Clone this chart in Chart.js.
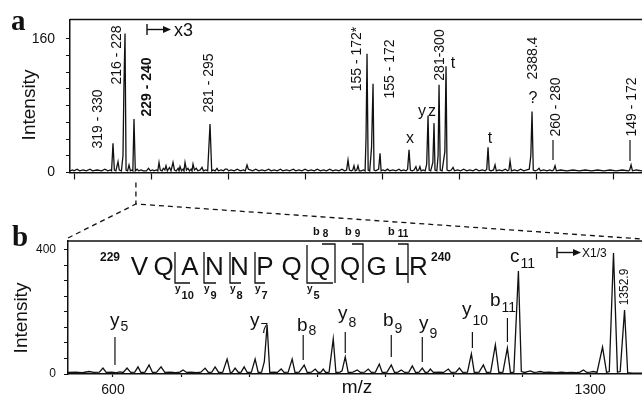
<!DOCTYPE html>
<html>
<head>
<meta charset="UTF-8">
<title>MS spectra a/b</title>
<script src="https://cdn.jsdelivr.net/npm/chart.js"></script>
<style>
  body { margin: 0; background: #fff; }
  #wrap { position: relative; width: 642px; height: 398px; }
  canvas { position: absolute; left: 0; top: 0; }
</style>
</head>
<body>
<div id="wrap">
  <canvas id="chartA" width="642" height="398"></canvas>
  <canvas id="chartB" width="642" height="398"></canvas>
</div>
<script>
// panel a: [m/z, intensity]
const traceA = [
  [887,2],[895,3],[900,2],[910,4],[918,2],[930,3],[940,2],[952,4],[960,2],[975,3],[990,2],[1000,4],[1010,2],
  [1018,3],[1022,2],[1026.6,35],[1031,3],[1036,2],[1042.9,13],[1047,3],[1054,2],[1059,20],[1062,101],[1065.6,166],
  [1069,3],[1074,2],[1078.6,9],[1083,2],[1088,3],[1091,2],[1094.8,64],[1099,2],[1105,4],[1110,2],[1118,3],[1125,2],
  [1135,2],[1142,5],[1148,2],[1155,3],[1160,2],[1168,3],[1172,2],[1176,12],[1180,3],[1186,2],[1190,5],[1195,3],
  [1198.7,8],[1203,2],[1210,6],[1215,2],[1221.4,12],[1226,3],[1232,2],[1238,5],[1241,2],[1244.2,7],[1249,2],
  [1254,4],[1257,2],[1260.4,12],[1265,3],[1270,5],[1275,2],[1280,4],[1283,2],[1286.4,10],[1291,3],[1297,5],
  [1302,2],[1310,3],[1315.6,6],[1320,2],[1328,3],[1334,2],[1341.6,58],[1347,2],[1352,3],[1358,2],[1364.3,5],
  [1369,2],[1378,3],[1385,2],[1391,4],[1396.8,4],[1402,2],[1410,3],[1420,2],[1430,4],[1440,2],[1450,3],[1456,2],
  [1461.7,9],[1466,4],[1472,3],[1480,2],[1490,4],[1500,2],[1510,3],[1520,2],[1532,4],[1540,2],[1550,3],[1560,2],
  [1570,4],[1578,2],[1590,3],[1600,2],[1612,4],[1620,2],[1630,3],[1640,2],[1650,4],[1660,2],[1670,3],[1680,2],
  [1690,4],[1700,2],[1710,3],[1720,2],[1730,4],[1740,2],[1750,3],[1760,2],[1770,4],[1778,2],[1785,3],[1789.6,15],
  [1794,3],[1800,2],[1805,3],[1809,8],[1813,2],[1818,3],[1822,8],[1826,2],[1832,2],[1840,3],[1845,2],[1848,40],
  [1851.3,142],[1855,3],[1860,2],[1866,30],[1870.8,106],[1874,3],[1880,2],[1889,4],[1893.5,23],[1897,2],[1903,3],
  [1910,2],[1918,4],[1925,2],[1935,3],[1945,2],[1955,4],[1962,2],[1970,3],[1978,2],[1983,4],[1987.7,27],[1992,3],
  [1998,2],[2004,3],[2010,7],[2014,2],[2019,3],[2023,7],[2027,2],[2034,3],[2040,2],[2045,10],[2049.4,68],[2053,3],
  [2058,2],[2065,12],[2068.8,59],[2072,3],[2078,2],[2082,20],[2085.1,105],[2089,3],[2095,2],[2104,25],[2107.8,127],
  [2111,3],[2118,2],[2125,3],[2130.5,6],[2135,2],[2145,3],[2155,2],[2165,4],[2175,2],[2185,3],[2195,2],[2205,4],
  [2215,2],[2225,3],[2235,2],[2240,4],[2244.2,30],[2248,3],[2254,2],[2262,3],[2266.9,9],[2271,2],[2280,3],[2290,2],
  [2300,4],[2308,2],[2312,3],[2315.6,14],[2320,2],[2330,3],[2340,2],[2350,4],[2360,2],[2370,3],[2378,4],[2383,20],
  [2387,73],[2391,3],[2397,2],[2404,3],[2409.8,5],[2414,2],[2425,3],[2435,2],[2445,3],[2452,2],[2457,3],[2461.7,8],
  [2466,2],[2480,3],[2500,2],[2520,3],[2540,2],[2560,3],[2580,2],[2600,3],[2620,2],[2640,3],[2660,2],[2680,3],
  [2700,2],[2704,3],[2708.5,9],[2713,2],[2725,3],[2744,2]
];

// panel b: [m/z, intensity]
const traceB = [
  [534,5],[545,6],[555,4],[565,8],[572,5],[580,6],[585.3,19],[590,5],[598,6],[604,4],[610,7],[615,5],[620.6,19],
  [626,5],[632,6],[636.7,23],[641,5],[647,6],[652.9,29],[658,5],[664,6],[670.5,23],[676,5],[684,6],[692,4],[698,6],
  [702.8,13],[708,5],[715,6],[722,4],[729,6],[735.1,19],[740,5],[745,6],[749.8,23],[755,5],[761,6],[767.4,48],
  [772,5],[775,6],[779.1,19],[784,5],[788,6],[792.4,23],[797,5],[803,6],[808.5,48],[813,5],[818,6],[822,40],
  [826.1,158],[830,5],[836,6],[841,5],[846.7,16],[851,5],[857,6],[862.8,48],[867,5],[873,6],[880.5,29],[885,5],
  [891,6],[896.6,16],[901,5],[905,6],[908.4,16],[912,5],[917,6],[923.1,113],[927,5],[933,6],[936,10],[940.7,55],
  [945,5],[952,6],[958.3,13],[963,5],[969,6],[974.4,16],[979,5],[985,6],[990.6,32],[995,5],[1002,6],[1008.2,29],
  [1013,5],[1018,6],[1022.9,13],[1028,5],[1034,6],[1039.1,26],[1044,5],[1049,6],[1053.7,19],[1058,5],[1062,6],
  [1065.5,16],[1070,5],[1078,6],[1085,5],[1091.9,16],[1096,5],[1103,6],[1108.1,19],[1113,5],[1120,6],[1125.7,65],
  [1130,5],[1137,6],[1143.3,29],[1148,5],[1154,6],[1160.9,94],[1166,5],[1172,6],[1178.5,84],[1183,5],[1188,6],
  [1194.7,332],[1199,8],[1204,5],[1208,8],[1212.3,10],[1217,5],[1222,6],[1227,8],[1232,5],[1240,6],[1250,4],
  [1258,6],[1265,4],[1272,5],[1280,4],[1285,6],[1290.1,13],[1295,5],[1300,6],[1304.8,8],[1310,5],[1318.1,87],
  [1324,5],[1328,8],[1334.2,390],[1340,6],[1344,8],[1350.4,206],[1355,4],[1362,3],[1376,3]
];

const xTicksA = [900, 1150, 1400, 1650, 1900, 2150, 2400, 2650];
const yTicksA = [0, 20, 40, 60, 80, 100, 120, 140, 160];
const yLabelsA = { 0: '0', 160: '160' };
const xTicksB = [600, 700, 800, 900, 1000, 1100, 1200, 1300];
const yTicksB = [0, 50, 100, 150, 200, 250, 300, 350, 400];
const xLabelsB = { 600: '600', 1300: '1300' };
const yLabelsB = { 0: '0', 400: '400' };

// rotated peak assignments in panel a
const labelsA = [
  ['319 - 330', 98, 119, false], ['216 - 228', 117, 55, false], ['229 - 240', 147, 87, true],
  ['281 - 295', 209, 83, false], ['155 - 172*', 357, 59, false], ['155 - 172', 390, 69, false],
  ['281-300', 440, 55, false], ['2388.4', 533, 58, false], ['260 - 280', 556, 107, false],
  ['149 - 172', 632, 107, false]
];
const lettersA = [['t', 453, 64], ['y', 422, 112], ['z', 432, 112], ['x', 410, 139], ['t', 490, 139], ['?', 533, 99]];

// panel b: sequence and ions
const sequence = ['V', 'Q', 'A', 'N', 'N', 'P', 'Q', 'Q', 'Q', 'G', 'L', 'R'];
const seqX = [139.5, 163.5, 190, 214.5, 239.5, 265, 291.5, 320, 350, 376.5, 401.5, 418.5];
const yBrackets = [['10', 175, 252, 190], ['9', 204, 252, 216], ['8', 230, 252, 241], ['7', 255, 252, 265], ['5', 307, 245, 333]];
const bBrackets = [['8', 335, 322, 313], ['9', 363, 352, 345], ['11', 408, 398, 388]];
// [ion, subscript, label x, label baseline, sub drop, marker m/z, marker top, marker bottom]
const ionsB = [
  ['y', '5', 110, 326, 5, 602.9, 337, 365], ['y', '7', 250, 326, 7, null],
  ['b', '8', 297, 331, 4, 879, 335, 360], ['y', '8', 338, 319, 8, 940.7, 332, 353],
  ['b', '9', 383, 326, 7, 1008.2, 335, 357], ['y', '9', 419, 329, 9, 1053.7, 337, 362],
  ['y', '10', 462, 315, 10, 1127.2, 332, 348], ['b', '11', 490, 306, 6, 1178.6, 318, 342],
  ['c', '11', 510, 262, 6, null]
];
const zoomFromA = 1101;

const ink = '#111';
const sans = "'Liberation Sans', Arial, sans-serif";
const serif = "'Liberation Serif', 'Times New Roman', serif";

function vText(ctx, s, x, y, font) {
  ctx.save();
  ctx.font = font;
  ctx.translate(x, y);
  ctx.rotate(-Math.PI / 2);
  ctx.textAlign = 'center';
  ctx.textBaseline = 'middle';
  ctx.fillText(s, 0, 0);
  ctx.restore();
}
function subText(ctx, main, sub, x, y, mf, sf, drop, gap) {
  ctx.textAlign = 'left';
  ctx.textBaseline = 'alphabetic';
  ctx.font = mf;
  ctx.fillText(main, x, y);
  const w = ctx.measureText(main).width;
  ctx.font = sf;
  ctx.fillText(sub, x + w + gap, y + drop);
}
function line(ctx, pts, w) {
  ctx.beginPath();
  ctx.lineWidth = w;
  ctx.moveTo(pts[0][0], pts[0][1]);
  for (let i = 1; i < pts.length; i++) ctx.lineTo(pts[i][0], pts[i][1]);
  ctx.stroke();
}
function arrowMark(ctx, x, y, len) {
  line(ctx, [[x, y - 5.5], [x, y + 5.5]], 1.4);
  line(ctx, [[x, y], [x + len, y]], 1.4);
  ctx.beginPath();
  ctx.moveTo(x + len - 1, y - 3.5);
  ctx.lineTo(x + len + 7, y);
  ctx.lineTo(x + len - 1, y + 3.5);
  ctx.closePath();
  ctx.fill();
}

const annoA = {
  id: 'annoA',
  afterDraw(chart) {
    const ctx = chart.ctx, a = chart.chartArea;
    ctx.save();
    ctx.fillStyle = ink;
    ctx.strokeStyle = ink;
    line(ctx, [[a.left, a.top], [a.right, a.top]], 1.5);
    ctx.font = 'bold 29px ' + serif;
    ctx.textAlign = 'left';
    ctx.textBaseline = 'alphabetic';
    ctx.fillText('a', 11, 30);
    vText(ctx, 'Intensity', 30, 105, '19px ' + sans);
    labelsA.forEach(l => vText(ctx, l[0], l[1], l[2], (l[3] ? 'bold ' : '') + '14px ' + sans));
    ctx.font = '16px ' + sans;
    ctx.textAlign = 'center';
    ctx.textBaseline = 'middle';
    lettersA.forEach(l => ctx.fillText(l[0], l[1], l[2]));
    line(ctx, [[553, 140], [553, 160]], 1.2);
    line(ctx, [[630, 140], [630, 161]], 1.2);
    arrowMark(ctx, 147, 29.5, 17);
    ctx.font = '18px ' + sans;
    ctx.textAlign = 'left';
    ctx.textBaseline = 'alphabetic';
    ctx.fillText('x3', 174, 36);
    ctx.restore();
  }
};

const annoB = {
  id: 'annoB',
  afterDraw(chart) {
    const ctx = chart.ctx, a = chart.chartArea, xs = chart.scales.x;
    ctx.save();
    ctx.fillStyle = ink;
    ctx.strokeStyle = ink;
    line(ctx, [[a.left, a.top], [a.right, a.top]], 1.5);
    ctx.font = 'bold 29px ' + serif;
    ctx.textAlign = 'left';
    ctx.textBaseline = 'alphabetic';
    ctx.fillText('b', 12, 246);
    vText(ctx, 'Intensity', 22, 318, '19px ' + sans);
    ctx.font = '19px ' + sans;
    ctx.textAlign = 'center';
    ctx.textBaseline = 'middle';
    ctx.fillText('m/z', 357, 388);

    // zoom lines from panel a
    const xa = chartA.scales.x.getPixelForValue(zoomFromA);
    ctx.setLineDash([5, 4]);
    line(ctx, [[xa, chartA.chartArea.bottom + 10], [xa, 204]], 1.3);
    line(ctx, [[a.left, a.top - 3], [xa, 204], [a.right, a.top - 2]], 1.3);
    ctx.setLineDash([]);

    // peptide sequence
    ctx.font = '26px ' + sans;
    ctx.textAlign = 'center';
    ctx.textBaseline = 'alphabetic';
    sequence.forEach((s, i) => ctx.fillText(s, seqX[i], 275));
    ctx.font = 'bold 12px ' + sans;
    ctx.textAlign = 'left';
    ctx.fillText('229', 100, 261);
    ctx.fillText('240', 431, 261);
    yBrackets.forEach(b => {
      line(ctx, [[b[1], b[2]], [b[1], 283], [b[3], 283]], 1.3);
      subText(ctx, 'y', b[0], b[1], 292, 'bold 10px ' + sans, 'bold 11px ' + sans, 7, 1);
    });
    bBrackets.forEach(b => {
      line(ctx, [[b[2], 244], [b[1], 244], [b[1], 283]], 1.3);
      subText(ctx, 'b', b[0], b[3], 235, 'bold 11px ' + sans, 'bold 10px ' + sans, 2, 3);
    });

    // ion labels and markers
    ionsB.forEach(o => {
      subText(ctx, o[0], o[1], o[2], o[3], '19px ' + sans, '14px ' + sans, o[4], 1);
      if (o[5] !== null) {
        const x = xs.getPixelForValue(o[5]);
        line(ctx, [[x, o[6]], [x, o[7]]], 1.2);
      }
    });
    arrowMark(ctx, 557, 252.5, 17);
    ctx.font = '12px ' + sans;
    ctx.textAlign = 'left';
    ctx.fillText('X1/3', 582, 257);
    vText(ctx, '1352.9', 625, 287, '12px ' + sans);
    ctx.restore();
  }
};

const chartA = new Chart(document.getElementById('chartA'), {
  type: 'line',
  data: { datasets: [{
    data: traceA.map(p => ({ x: p[0], y: p[1] })),
    borderColor: ink, borderWidth: 1.3, pointRadius: 0, tension: 0
  }] },
  options: {
    responsive: false, animation: false, devicePixelRatio: 1,
    layout: { padding: { left: 0, top: 18, right: 0, bottom: 215.5 } },
    plugins: { legend: { display: false }, tooltip: { enabled: false } },
    scales: {
      x: {
        type: 'linear', min: 887, max: 2744,
        afterBuildTicks: s => { s.ticks = xTicksA.map(v => ({ value: v })); },
        afterFit: s => { s.height = 10; },
        grid: { drawOnChartArea: false, tickLength: 7, color: ink, tickWidth: 1.2 },
        border: { color: ink, width: 1.5 },
        ticks: { display: false }
      },
      y: {
        min: 0, max: 183,
        afterBuildTicks: s => { s.ticks = yTicksA.map(v => ({ value: v })); },
        afterFit: s => { s.width = 70; },
        grid: { drawOnChartArea: false, tickLength: 4, color: ink, tickWidth: 1 },
        border: { color: ink, width: 1.5 },
        ticks: { callback: v => yLabelsA[v] ?? '', autoSkip: false, padding: 11, color: ink, font: { family: sans, size: 14 } }
      }
    }
  },
  plugins: [annoA]
});

const chartB = new Chart(document.getElementById('chartB'), {
  type: 'line',
  data: { datasets: [{
    data: traceB.map(p => ({ x: p[0], y: p[1] })),
    borderColor: ink, borderWidth: 1.3, pointRadius: 0, tension: 0
  }] },
  options: {
    responsive: false, animation: false, devicePixelRatio: 1,
    layout: { padding: { left: 0, top: 241, right: 0, bottom: 4 } },
    plugins: { legend: { display: false }, tooltip: { enabled: false } },
    scales: {
      x: {
        type: 'linear', min: 534, max: 1376,
        afterBuildTicks: s => { s.ticks = xTicksB.map(v => ({ value: v })); },
        afterFit: s => { s.height = 20; },
        grid: { drawOnChartArea: false, tickLength: 3, color: ink, tickWidth: 1.2 },
        border: { color: ink, width: 1.5 },
        ticks: { callback: v => xLabelsB[v] ?? '', autoSkip: false, maxRotation: 0, padding: 5, color: ink, font: { family: sans, size: 14 } }
      },
      y: {
        min: 0, max: 429,
        afterBuildTicks: s => { s.ticks = yTicksB.map(v => ({ value: v })); },
        afterFit: s => { s.width = 68; },
        grid: { drawOnChartArea: false, tickLength: 4, color: ink, tickWidth: 1 },
        border: { color: ink, width: 1.5 },
        ticks: { callback: v => yLabelsB[v] ?? '', autoSkip: false, padding: 8, color: ink, font: { family: sans, size: 12 } }
      }
    }
  },
  plugins: [annoB]
});
</script>
</body>
</html>
